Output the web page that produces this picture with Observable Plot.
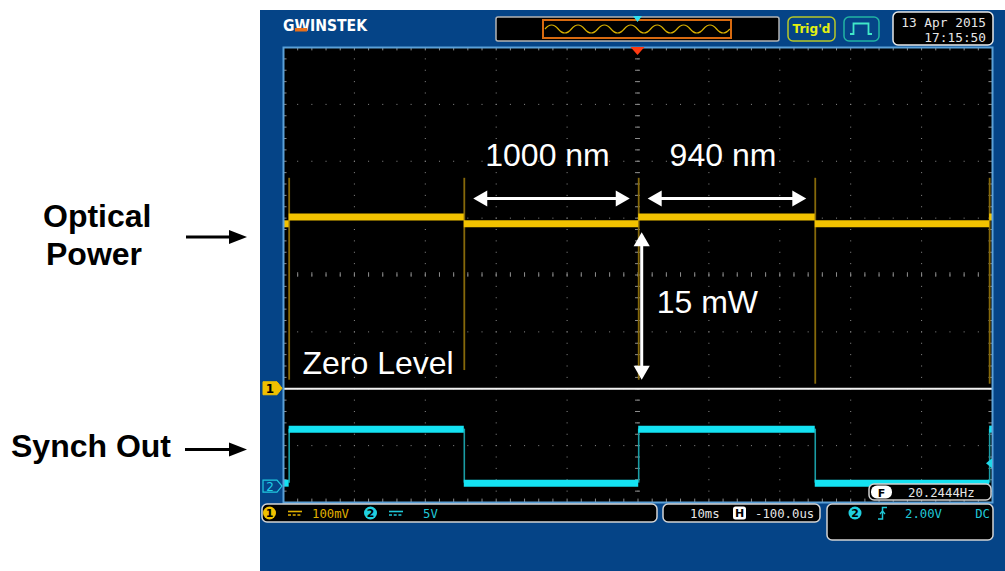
<!DOCTYPE html>
<html><head><meta charset="utf-8">
<script src="https://cdn.jsdelivr.net/npm/d3@7"></script>
<script src="https://cdn.jsdelivr.net/npm/@observablehq/plot@0.6"></script>
<style>
html,body{margin:0;padding:0;background:#fff;}
#chart{width:1005px;height:571px;overflow:hidden;}
svg{display:block;}
</style></head><body><div id="chart"></div>
<script>
// ---------------- data ----------------
const edgeTimes_ms = [-49.2, -24.5, 0.1, 25.0, 49.6];          // switching instants
const segStart_ms = [-50, -49.2, -24.5, 0.1, 25.0, 49.6];
const segEnd_ms   = [-49.2, -24.5, 0.1, 25.0, 49.6, 50];
const opticalLevel_mV = [290, 302, 290, 302, 290, 302];      // CH1 above its ground
const synchLevel_V    = [0.3, 5.05, 0.3, 5.05, 0.3, 5.05];   // CH2 above its ground
const opticalSpikeTop_mV = [370, 370, 370, 370, 370];
const opticalSpikeBottom_mV = [15, 32, 15, 8, 8];
const synchTriggerLevel_V = 2.0;
const ch1Scale_mV = 100, ch1Ground_div = -2;
const ch2Scale_V = 5, ch2Ground_div = -3.72;
const timePerDiv_ms = 10;
const wavelengthLabels = ["1000 nm", "940 nm"];
const powerLabel = "15 mW";
const zeroLabel = "Zero Level";
const opticalSideLabel = ["Optical", "Power"];
const synchSideLabel = "Synch Out";
const ch1Text = "100mV", ch2Text = "5V";
const timebaseText = "10ms", hposText = "-100.0us";
const trigLevelText = "2.00V", trigCouplingText = "DC";
const freqText = "20.2444Hz";
const dateText = "13 Apr 2015", timeText = "17:15:50";

// ---------------- helpers ----------------
const ch1 = mV => ch1Ground_div + mV / ch1Scale_mV;
const ch2 = V => ch2Ground_div + V / ch2Scale_V;
const segs = segStart_ms.map((s, i) => ({x1: s, x2: segEnd_ms[i], opt: ch1(opticalLevel_mV[i]), syn: ch2(synchLevel_V[i])}));
const spikes = edgeTimes_ms.map((t, i) => ({x: t, y1: ch1(opticalSpikeBottom_mV[i]), y2: ch1(opticalSpikeTop_mV[i])}));
const synEdges = edgeTimes_ms.map(t => ({x: t, y1: ch2(synchLevel_V[0]), y2: ch2(synchLevel_V[1])}));
const spans = wavelengthLabels.map((label, i) => ({label, x1: edgeTimes_ms[i + 1], x2: edgeTimes_ms[i + 2], xm: (edgeTimes_ms[i + 1] + edgeTimes_ms[i + 2]) / 2}));

const majorX = d3.range(-4, 5).map(k => k * timePerDiv_ms);
const majorY = d3.range(-3, 4);
const minorX = d3.range(-50, 50.001, timePerDiv_ms / 5);
const minorY = d3.range(-4, 4.001, 0.2);
const arrowRow = 1.345;               // division row of the wavelength arrows
const gridCol = "#8c8c8c";
const sans = "Arial, 'Liberation Sans', sans-serif";
const yellow = "#f2c200", cyan = "#14e2f2";

const plot = Plot.plot({
  width: 1005, height: 571,
  marginLeft: 283, marginRight: 13, marginTop: 47, marginBottom: 69,
  x: {domain: [-5 * timePerDiv_ms, 5 * timePerDiv_ms], axis: null},
  y: {domain: [-4, 4], axis: null},
  style: {background: "transparent", fontFamily: sans},
  marks: [
    Plot.frame({fill: "black"}),
    // dotted graticule
    Plot.ruleX(majorX, {x: d => d, stroke: gridCol, strokeWidth: 1, strokeDasharray: "1,10.375"}),
    Plot.ruleY(majorY, {y: d => d, stroke: gridCol, strokeWidth: 1, strokeDasharray: "1,13.18"}),
    // centre cross ticks
    Plot.ruleX(minorX, {x: d => d, y1: -0.04, y2: 0.04, stroke: gridCol}),
    Plot.ruleY(minorY, {y: d => d, x1: -0.35, x2: 0.35, stroke: gridCol}),
    // border ticks
    Plot.ruleX(minorX, {x: d => d, y1: 4, y2: 3.94, stroke: gridCol}),
    Plot.ruleX(minorX, {x: d => d, y1: -4, y2: -3.94, stroke: gridCol}),
    Plot.ruleY(minorY, {y: d => d, x1: -50, x2: -49.5, stroke: gridCol}),
    Plot.ruleY(minorY, {y: d => d, x1: 50, x2: 49.5, stroke: gridCol}),
    // zero level of CH1
    Plot.ruleY([ch1(0)], {y: d => d, stroke: "#f2f2f2", strokeWidth: 2}),
    // CH1 optical power trace
    Plot.ruleX(spikes, {x: "x", y1: "y1", y2: "y2", stroke: "#86690a", strokeWidth: 1.8}),
    Plot.ruleY(segs, {x1: "x1", x2: "x2", y: "opt", stroke: yellow, strokeWidth: 7}),
    // CH2 synch trace
    Plot.ruleX(synEdges, {x: "x", y1: "y1", y2: "y2", stroke: "#1a9ca4", strokeWidth: 1.6}),
    Plot.ruleY(segs, {x1: "x1", x2: "x2", y: "syn", stroke: cyan, strokeWidth: 7}),
    // wavelength double arrows
    Plot.ruleY(spans, {x1: "x1", x2: "x2", y: () => arrowRow, insetLeft: 16, insetRight: 16, stroke: "white", strokeWidth: 3}),
    Plot.dot(spans, {x: "x1", y: () => arrowRow, symbol: "triangle", r: 6, rotate: -90, dx: 18.3, fill: "white", stroke: "none"}),
    Plot.dot(spans, {x: "x2", y: () => arrowRow, symbol: "triangle", r: 6, rotate: 90, dx: -18.3, fill: "white", stroke: "none"}),
    Plot.text(spans, {x: "xm", y: () => arrowRow, text: "label", dx: -4, dy: -43, fill: "white", fontSize: 32, fontFamily: sans}),
    // power arrow
    Plot.ruleX([edgeTimes_ms[2]], {x: d => d, y1: ch1(opticalLevel_mV[2]), y2: ch1(0), dx: 3, insetTop: 16, insetBottom: 16, stroke: "white", strokeWidth: 3}),
    Plot.dot([edgeTimes_ms[2]], {x: d => d, y: ch1(opticalLevel_mV[2]), symbol: "triangle", r: 6, rotate: 0, dx: 3, dy: 17.8, fill: "white", stroke: "none"}),
    Plot.dot([edgeTimes_ms[2]], {x: d => d, y: ch1(0), symbol: "triangle", r: 6, rotate: 180, dx: 3, dy: -18.3, fill: "white", stroke: "none"}),
    Plot.text([powerLabel], {x: edgeTimes_ms[2], y: ch1(opticalLevel_mV[2] / 2), text: d => d, textAnchor: "start", dx: 18, dy: -4, fill: "white", fontSize: 32, fontFamily: sans}),
    Plot.text([zeroLabel], {x: -5 * timePerDiv_ms, y: ch1(0), text: d => d, textAnchor: "start", dx: 19, dy: -25, fill: "white", fontSize: 32, fontFamily: sans}),
    Plot.frame({stroke: "#5aa0d8", strokeWidth: 2})
  ]
});
document.getElementById("chart").appendChild(plot);

// ---------------- oscilloscope chrome ----------------
const svg = d3.select(plot);
const xs = plot.scale("x"), ys = plot.scale("y");
svg.insert("rect", ":first-child").attr("x", 260).attr("y", 10).attr("width", 745).attr("height", 561).attr("fill", "#054487");
svg.insert("rect", ":first-child").attr("x", 0).attr("y", 0).attr("width", 1005).attr("height", 571).attr("fill", "#ffffff");

const g = svg.append("g");
const mono = "'DejaVu Sans Mono', monospace";
function text(x, y, s, o = {}) {
  const t = g.append("text").attr("x", x).attr("y", y).text(s)
    .attr("font-family", o.family || mono).attr("font-size", o.size || 12.3)
    .attr("fill", o.fill || "#e6e6e6").attr("text-anchor", o.anchor || "start")
    .attr("font-weight", o.weight || "normal");
  if (o.len) t.attr("textLength", o.len).attr("lengthAdjust", "spacingAndGlyphs");
  return t;
}
function box(x, y, w, h, o = {}) {
  return g.append("rect").attr("x", x).attr("y", y).attr("width", w).attr("height", h)
    .attr("rx", o.rx ?? 5).attr("fill", o.fill || "black").attr("stroke", o.stroke || "#d4d4d4")
    .attr("stroke-width", o.sw || 1.5);
}
function path(d, fill, stroke, sw) {
  return g.append("path").attr("d", d).attr("fill", fill || "none").attr("stroke", stroke || "none").attr("stroke-width", sw || 1);
}

// logo
text(283, 31, "GWINSTEK", {family: "'DejaVu Sans', sans-serif", size: 16.5, weight: "bold", fill: "#ffffff", len: 84});
g.append("rect").attr("x", 295).attr("y", 28).attr("width", 12).attr("height", 3.5).attr("fill", "#e8701a");

// memory overview
box(496, 17, 283, 24, {rx: 2, stroke: "#b4b4b4"});
box(543, 20, 188, 18, {rx: 0, fill: "none", stroke: "#d86a10", sw: 2});
let wave = "M545,29";
for (let i = 0; i < 14; i++) { const x0 = 545 + i * 13.2; wave += ` Q${x0 + 6.6},${i % 2 ? 37 : 21} ${x0 + 13.2},29`; }
path(wave, "none", "#d8b000", 1.2);
const xt = xs.apply(0);
path(`M${xt - 4.5},16 L${xt + 4.5},16 L${xt},22 Z`, "#30e0f0");

// Trig'd and pulse boxes
box(788, 17, 47, 24, {fill: "none", stroke: "#b8c828"});
text(811.5, 33, "Trig'd", {family: "'DejaVu Sans', sans-serif", size: 12, weight: "bold", fill: "#e4f010", anchor: "middle", len: 38});
box(844, 17, 35, 24, {fill: "none", stroke: "#22b4a4"});
path("M850,34 H853.5 V23.5 H868.5 V34 H872", "none", "#40e8c8", 1.8);

// date box
box(893, 12, 100, 33, {stroke: "#e8e8e8"});
text(986, 27, dateText, {size: 12.8, anchor: "end"});
text(986, 42, timeText, {size: 12.8, anchor: "end"});

// trigger position marker
path(`M${xt - 7},47 L${xt + 7},47 L${xt},55 Z`, "#ff3a12");

// channel ground markers
const y1g = ys.apply(ch1Ground_div), y2g = ys.apply(ch2Ground_div);
path(`M263,${y1g - 6.5} H277 L282,${y1g} L277,${y1g + 6.5} H263 Z`, "#f0c000", "#f0c000", 1);
text(270, y1g + 4.5, "1", {family: "'DejaVu Sans', sans-serif", size: 12, weight: "bold", fill: "#000", anchor: "middle"});
path(`M263,${y2g - 6} H277 L282,${y2g} L277,${y2g + 6} H263 Z`, "#054487", "#20c8e0", 1.2);
text(270, y2g + 4.5, "2", {family: "'DejaVu Sans', sans-serif", size: 12, fill: "#20d0e8", anchor: "middle"});
// trigger level marker
const ytl = ys.apply(ch2(synchTriggerLevel_V));
path(`M992,${ytl - 5} L986,${ytl} L992,${ytl + 5} Z`, "#20d8e8");

// frequency box
box(869, 484, 122, 16, {stroke: "#d0d0d0"});
box(871, 485.5, 21, 13, {rx: 6, fill: "#ffffff", stroke: "none"});
text(881.5, 496.5, "F", {family: "'DejaVu Sans', sans-serif", size: 11, weight: "bold", fill: "#000", anchor: "middle"});
text(908, 497, freqText, {size: 12.3});

// bottom status bars
box(262, 504, 395, 18);
g.append("circle").attr("cx", 269.5).attr("cy", 513).attr("r", 6.5).attr("fill", "#f0c000");
text(269.5, 517, "1", {family: "'DejaVu Sans', sans-serif", size: 11, weight: "bold", fill: "#000", anchor: "middle"});
path("M288,511.5 H302", "none", "#e0b000", 1.6);
path("M288,515 H302", "none", "#e0b000", 1.4).attr("stroke-dasharray", "3,1.7");
text(312, 518, ch1Text, {fill: "#e0b000"});
g.append("circle").attr("cx", 370.5).attr("cy", 513).attr("r", 6.5).attr("fill", "#20d0e0");
text(370.5, 517, "2", {family: "'DejaVu Sans', sans-serif", size: 11, weight: "bold", fill: "#000", anchor: "middle"});
path("M389,511.5 H403", "none", "#20c8d8", 1.6);
path("M389,515 H403", "none", "#20c8d8", 1.4).attr("stroke-dasharray", "3,1.7");
text(423, 518, ch2Text, {fill: "#20c8d8"});

box(663, 504, 157, 18);
text(690, 518, timebaseText);
box(733, 506.5, 13, 13, {rx: 2.5, fill: "#ffffff", stroke: "none"});
text(739.5, 517, "H", {family: "'DejaVu Sans', sans-serif", size: 11, weight: "bold", fill: "#000", anchor: "middle"});
text(755, 518, hposText);

box(827, 504, 166, 36);
g.append("circle").attr("cx", 855).attr("cy", 513).attr("r", 6.5).attr("fill", "#20d0e0");
text(855, 517, "2", {family: "'DejaVu Sans', sans-serif", size: 11, weight: "bold", fill: "#000", anchor: "middle"});
path("M878,519 H882.5 V507.5 H887", "none", "#20c8d8", 1.5);
path("M880,514 L882.5,511 L885,514", "none", "#20c8d8", 1.3);
text(905, 518, trigLevelText, {fill: "#20c8d8"});
text(990, 518, trigCouplingText, {fill: "#20c8d8", anchor: "end"});

// side annotations
const bold = {family: sans, size: 32, weight: "bold", fill: "#000"};
text(43, 227, opticalSideLabel[0], bold);
text(46, 265, opticalSideLabel[1], bold);
text(11, 457, synchSideLabel, bold);
function sideArrow(x1, x2, y) {
  path(`M${x1},${y} H${x2 - 16}`, "none", "#000", 3);
  path(`M${x2 - 18},${y - 7} L${x2},${y} L${x2 - 18},${y + 7} Z`, "#000");
}
sideArrow(186, 247, 237);
sideArrow(185, 247, 449.5);
</script></body></html>
